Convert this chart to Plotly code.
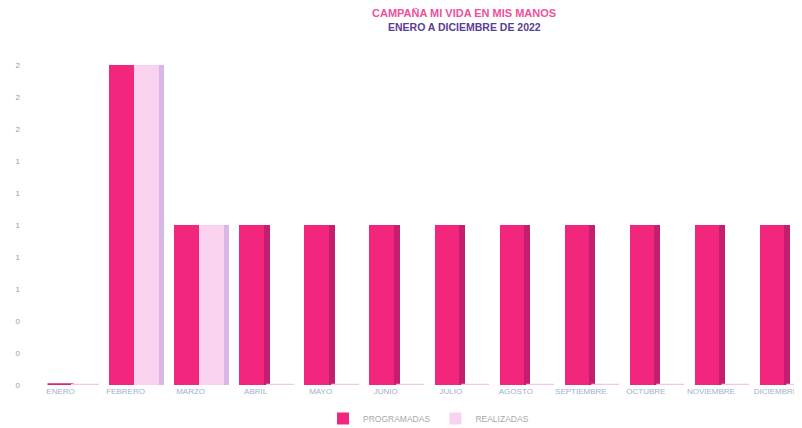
import plotly.graph_objects as go

meses = ["ENERO", "FEBRERO", "MARZO", "ABRIL", "MAYO", "JUNIO", "JULIO",
         "AGOSTO", "SEPTIEMBRE", "OCTUBRE", "NOVIEMBRE", "DICIEMBRE"]
programadas = [0, 2, 1, 1, 1, 1, 1, 1, 1, 1, 1, 1]
realizadas = [0, 2, 1, 0, 0, 0, 0, 0, 0, 0, 0, 0]
ytick_vals = [0, 0.2, 0.4, 0.6, 0.8, 1.0, 1.2, 1.4, 1.6, 1.8, 2.0]
ytick_text = ["0", "0", "0", "1", "1", "1", "1", "1", "2", "2", "2"]

xs = list(range(len(meses)))

PINK = "#F2267D"
PINK_SIDE = "#C41E70"
LIGHT = "#F8D2EF"
LIGHT_SIDE = "#D8B6E6"

# page has an 8px body margin; work in page pixels and convert
OFF = 8
FIG_W, FIG_H = 802 - OFF, 428 - OFF
TOP, BOTTOM = 33, 385   # plot area in page pixels
LEFT, RIGHT = 28, 802
H = BOTTOM - TOP
W = RIGHT - LEFT
S = 0.04  # horizontal shift of the bar group


def floor_segments(values, a, b):
    sx, sy = [], []
    for i, v in enumerate(values):
        if v == 0:
            sx += [i + a, i + b, None]
            sy += [0, 0, None]
    return sx, sy


fig = go.Figure()
fig.add_trace(go.Bar(x=xs, y=programadas, offset=0.09 + S, width=0.09,
                     marker=dict(color=PINK_SIDE, line=dict(width=0)),
                     showlegend=False, hoverinfo="skip"))
fig.add_trace(go.Bar(x=xs, y=programadas, offset=-0.29 + S, width=0.38, name="PROGRAMADAS",
                     marker=dict(color=PINK, line=dict(width=0))))
fig.add_trace(go.Bar(x=xs, y=realizadas, offset=0.47 + S, width=0.08,
                     marker=dict(color=LIGHT_SIDE, line=dict(width=0)),
                     showlegend=False, hoverinfo="skip"))
fig.add_trace(go.Bar(x=xs, y=realizadas, offset=0.09 + S, width=0.38, name="REALIZADAS",
                     marker=dict(color=LIGHT, line=dict(width=0))))

px_, py_ = floor_segments(programadas, -0.24 + S, 0.16 + S)
fig.add_trace(go.Scatter(x=px_, y=py_, mode="lines", line=dict(color="#D8237A", width=3.5),
                         showlegend=False, hoverinfo="skip"))
rx_, ry_ = floor_segments(realizadas, 0.12 + S, 0.55 + S)
fig.add_trace(go.Scatter(x=rx_, y=ry_, mode="lines", line=dict(color="#F3C6E6", width=2.5),
                         showlegend=False, hoverinfo="skip"))

fig.update_layout(
    width=FIG_W, height=FIG_H,
    margin=dict(l=LEFT - OFF, r=FIG_W - (RIGHT - OFF), t=TOP - OFF, b=FIG_H - (BOTTOM - OFF),
                autoexpand=False),
    barmode="overlay",
    paper_bgcolor="white", plot_bgcolor="white",
    font=dict(family="Liberation Sans, Arial, sans-serif", size=8, color="#9A9A9A"),
    annotations=[
        dict(text="<b>CAMPAÑA MI VIDA EN MIS MANOS</b>", xref="paper", yref="paper",
             x=(464 - LEFT) / W, y=(BOTTOM - 13) / H, xanchor="center", yanchor="middle",
             showarrow=False,
             font=dict(size=11, color="#F0509C", family="Liberation Sans, Arial, sans-serif")),
        dict(text="<b>ENERO A DICIEMBRE DE 2022</b>", xref="paper", yref="paper",
             x=(464 - LEFT) / W, y=(BOTTOM - 27) / H, xanchor="center", yanchor="middle",
             showarrow=False,
             font=dict(size=10.5, color="#5A3E96", family="Liberation Sans, Arial, sans-serif")),
    ],
    xaxis=dict(range=[-0.5, 11.4], tickmode="array", tickvals=xs, ticktext=meses,
               showgrid=False, zeroline=False, showline=False, ticks="",
               tickfont=dict(size=8, color="#9EB0CE")),
    yaxis=dict(range=[0, 2.2], tickmode="array", tickvals=ytick_vals, ticktext=ytick_text,
               showgrid=False, zeroline=False, showline=False, ticks="",
               ticklabelstandoff=7,
               tickfont=dict(size=8, color="#9A9A9A")),
    legend=dict(orientation="h", x=(323 - LEFT) / W, xanchor="left",
                y=(BOTTOM - 404) / H, yanchor="top",
                font=dict(size=8.5, color="#A8A8A8"), itemwidth=30, traceorder="normal"),
    bargap=0,
)

fig.write_html("out.html")
